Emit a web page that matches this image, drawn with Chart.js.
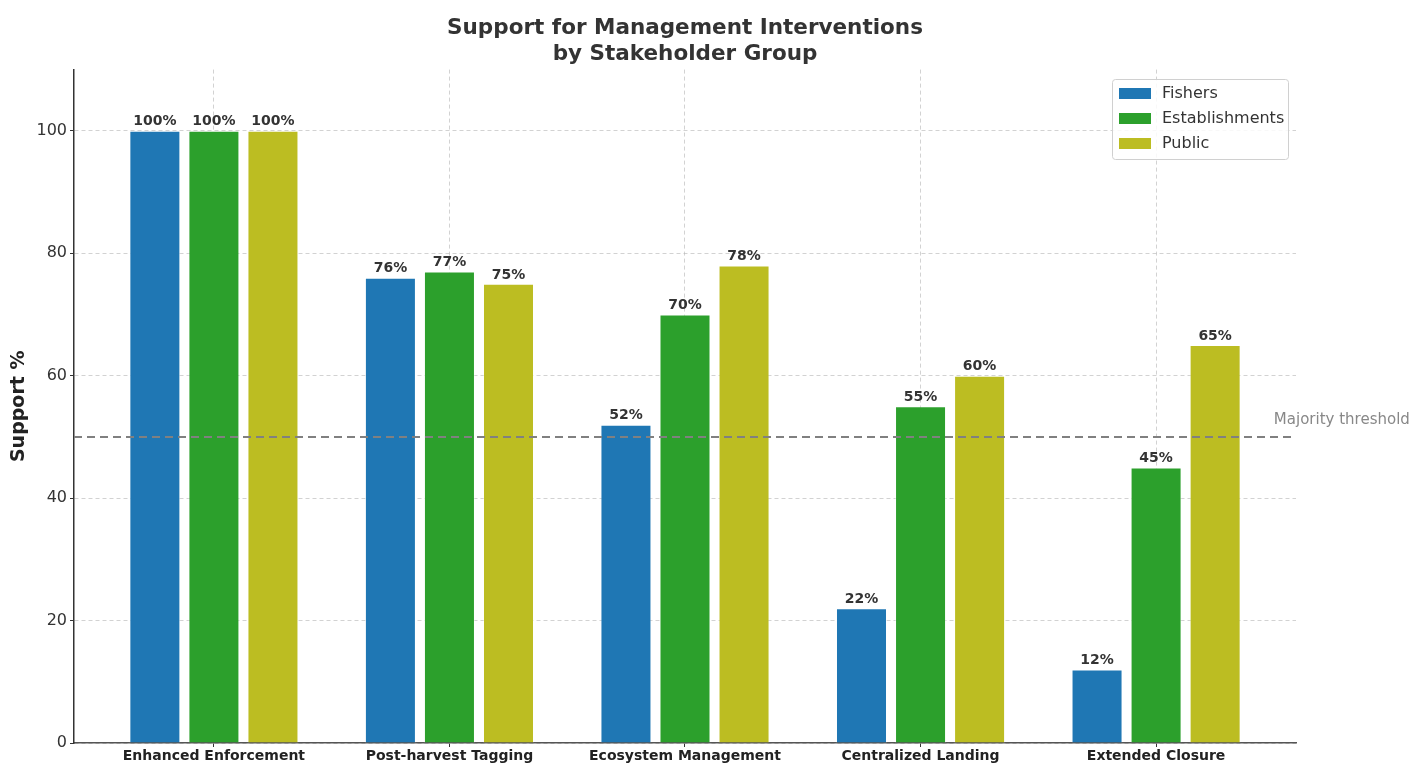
<!DOCTYPE html>
<html>
<head>
<meta charset="utf-8">
<script src="https://cdn.jsdelivr.net/npm/chart.js@4/dist/chart.umd.min.js"></script>
<style>
  html, body { margin: 0; padding: 0; background: #fff; }
  #wrap { width: 1417px; height: 764px; }
</style>
</head>
<body>
<div id="wrap"><canvas id="chart" width="1417" height="764"></canvas></div>
<script>
const categories = ["Enhanced Enforcement", "Post-harvest Tagging", "Ecosystem Management", "Centralized Landing", "Extended Closure"];
const fishers = [100, 76, 52, 22, 12];
const establishments = [100, 77, 70, 55, 45];
const publicVals = [100, 75, 78, 60, 65];
const threshold = 50;
const yTicks = [0, 20, 40, 60, 80, 100];

const FONT = "'DejaVu Sans', sans-serif";
const TEXT = "#333";

function toPoints(vals) {
  return vals.map((v, i) => ({ x: i, y: v }));
}

function barSet(label, vals, color) {
  return {
    type: "bar",
    label: label,
    data: toPoints(vals),
    backgroundColor: color,
    borderColor: "rgba(255,255,255,0.4)",
    borderWidth: 1,
    categoryPercentage: 0.752,
    barPercentage: 0.864,
    order: 1
  };
}

// value labels above bars
const valueLabels = {
  id: "valueLabels",
  afterDatasetsDraw(chart) {
    const ctx = chart.ctx;
    ctx.save();
    ctx.font = "bold 14px " + FONT;
    ctx.fillStyle = TEXT;
    ctx.textAlign = "center";
    ctx.textBaseline = "bottom";
    chart.data.datasets.forEach((ds, di) => {
      if (ds.type !== "bar") return;
      chart.getDatasetMeta(di).data.forEach((bar, i) => {
        ctx.fillText(ds.data[i].y + "%", bar.x, bar.y - 2);
      });
    });
    ctx.restore();
  }
};

// threshold caption + legend box inside the plot
const extras = {
  id: "extras",
  afterDraw(chart) {
    const ctx = chart.ctx;
    const xs = chart.scales.x, ys = chart.scales.y;
    ctx.save();
    ctx.font = "15px " + FONT;
    ctx.fillStyle = "#888";
    ctx.textAlign = "left";
    ctx.textBaseline = "middle";
    ctx.fillText("Majority threshold", xs.getPixelForValue(4.5), ys.getPixelForValue(threshold + 2.7));

    // legend
    const items = chart.data.datasets.filter(d => d.type === "bar");
    const bx = 1112, by = 79, bw = 176, bh = 80;
    ctx.fillStyle = "rgba(255,255,255,0.85)";
    ctx.strokeStyle = "#d0d0d0";
    ctx.lineWidth = 1;
    ctx.beginPath();
    ctx.roundRect(bx + 0.5, by + 0.5, bw, bh, 3);
    ctx.fill();
    ctx.stroke();
    ctx.font = "16px " + FONT;
    items.forEach((d, i) => {
      const cy = by + 14 + i * 25;
      ctx.fillStyle = d.backgroundColor;
      ctx.fillRect(bx + 7, cy - 5, 32, 11);
      ctx.fillStyle = TEXT;
      ctx.fillText(d.label, bx + 50, cy + 1);
    });
    ctx.restore();
  }
};

new Chart(document.getElementById("chart"), {
  data: {
    datasets: [
      barSet("Fishers", fishers, "#1f77b4"),
      barSet("Establishments", establishments, "#2ca02c"),
      barSet("Public", publicVals, "#bcbd22"),
      {
        type: "line",
        label: "Majority threshold",
        data: [{ x: -0.594, y: threshold }, { x: 4.594, y: threshold }],
        borderColor: "#808080",
        borderWidth: 2,
        borderDash: [8, 5],
        pointRadius: 0,
        order: 0
      }
    ]
  },
  options: {
    responsive: false,
    animation: false,
    layout: { padding: { top: 0, right: 121, bottom: 0, left: 0 } },
    plugins: {
      legend: { display: false },
      tooltip: { enabled: false },
      title: {
        display: true,
        fullSize: false,
        text: ["Support for Management Interventions", "by Stakeholder Group"],
        color: TEXT,
        font: { family: FONT, size: 21.5, weight: "bold", lineHeight: 1.2 },
        padding: { top: 16, bottom: 2 }
      }
    },
    scales: {
      x: {
        type: "linear",
        min: -0.594,
        max: 4.594,
        offset: false,
        z: 1,
        afterBuildTicks(s) { s.ticks = categories.map((c, i) => ({ value: i })); },
        afterFit(s) { s.height = 21; },
        ticks: {
          callback: v => categories[v],
          color: "#222",
          font: { family: FONT, size: 14, weight: "bold" },
          padding: 1,
          maxRotation: 0,
          autoSkip: false
        },
        grid: { offset: false, color: "rgba(180,180,180,0.6)", lineWidth: 1, tickLength: 4, tickColor: "#333" },
        border: { display: true, color: "#555", width: 1.5, dash: [4, 3] }
      },
      y: {
        min: 0,
        max: 110,
        z: 1,
        afterBuildTicks(s) { s.ticks = yTicks.map(v => ({ value: v })); },
        afterFit(s) { s.width = 74; },
        title: {
          display: true,
          text: "Support %",
          color: "#222",
          font: { family: FONT, size: 19, weight: "bold" },
          padding: { top: 8, bottom: 4 }
        },
        ticks: {
          color: TEXT,
          font: { family: FONT, size: 16 },
          padding: 3
        },
        grid: { color: "rgba(180,180,180,0.6)", lineWidth: 1, tickLength: 4, tickColor: "#333" },
        border: { display: true, color: "#333", width: 1.5, dash: [4, 3] }
      }
    }
  },
  plugins: [valueLabels, extras]
});
</script>
</body>
</html>
